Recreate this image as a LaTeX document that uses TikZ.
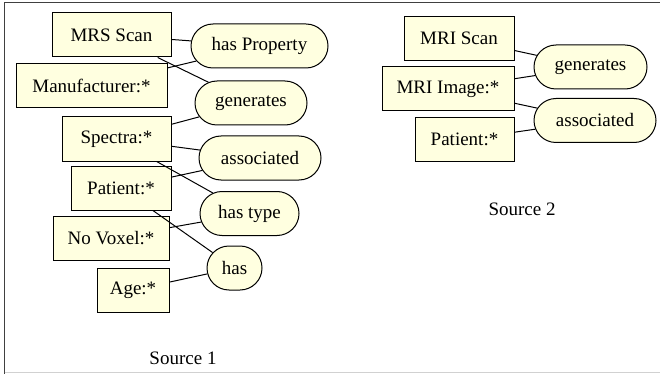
\documentclass[tikz,border=0pt]{standalone}
\usepackage{fontspec}
\setmainfont{Liberation Serif}
\usetikzlibrary{shapes.misc}
\definecolor{paleyel}{RGB}{255,255,224}

\begin{document}
\begin{tikzpicture}[x=1pt,y=-1pt,line width=1pt,font=\fontsize{19}{22}\selectfont]
\tikzstyle{cls}=[rectangle,draw,fill=paleyel,minimum height=44pt,inner sep=0pt]
\tikzstyle{rel}=[rounded rectangle,draw,fill=paleyel,minimum height=44pt,inner sep=0pt]
\useasboundingbox (0,0) rectangle (660,374);
\draw[black!75] (4.5,374) -- (4.5,3) -- (660,3);
\draw[black!18] (4.5,372.5) -- (660,372.5);
\node[cls,minimum width=119pt] (mrs) at (111.5,35) {MRS Scan};
\node[rel,minimum width=137pt] (hasprop) at (259.5,46) {has Property};
\node[cls,minimum width=151pt] (manu) at (91.5,86) {Manufacturer:*};
\node[rel,minimum width=112pt] (gen1) at (251,103) {generates};
\node[cls,minimum width=109pt] (spec) at (116.5,139) {Spectra:*};
\node[rel,minimum width=122pt] (assoc1) at (260,158) {associated};
\node[cls,minimum width=100pt] (pat1) at (121,188) {Patient:*};
\node[rel,minimum width=99pt] (hastype) at (249.5,213.5) {has type};
\node[cls,minimum width=116pt] (voxel) at (111,238) {No Voxel:*};
\node[rel,minimum width=55pt] (has) at (234.5,268) {has};
\node[cls,minimum width=72pt] (age) at (133,290) {Age:*};
\node (src1) at (183,358) {Source 1};
\draw (mrs) -- (hasprop); \draw (mrs) -- (gen1); \draw (manu) -- (hasprop);
\draw (spec) -- (gen1); \draw (spec) -- (assoc1); \draw (spec) -- (hastype);
\draw (pat1) -- (assoc1); \draw (pat1) -- (has);
\draw (voxel) -- (hastype); \draw (age) -- (has);
\node[cls,minimum width=110pt] (mri) at (459,38.5) {MRI Scan};
\node[rel,minimum width=113pt] (gen2) at (590.5,67) {generates};
\node[cls,minimum width=132pt] (img) at (448,89) {MRI Image:*};
\node[rel,minimum width=122pt] (assoc2) at (595,120.5) {associated};
\node[cls,minimum width=99pt] (pat2) at (464.5,139.5) {Patient:*};
\node (src2) at (522,209) {Source 2};
\draw (mri) -- (gen2); \draw (img) -- (gen2); \draw (img) -- (assoc2); \draw (pat2) -- (assoc2);
\end{tikzpicture}
\end{document}
